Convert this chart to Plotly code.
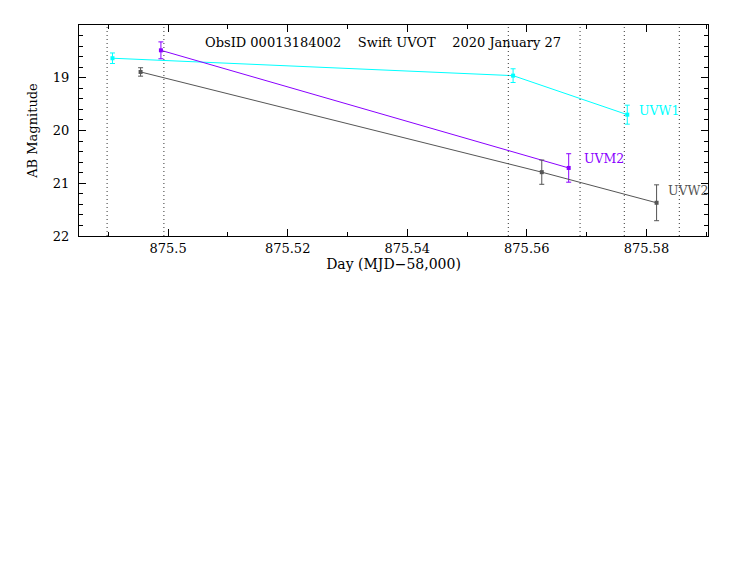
import plotly.graph_objects as go

# UVOT photometry, ObsID 00013184002
uvw1_day = [875.4907, 875.5577, 875.5768]
uvw1_mag = [18.63, 18.96, 19.70]
uvw1_err = [0.10, 0.13, 0.18]

uvm2_day = [875.4988, 875.5670]
uvm2_mag = [18.48, 20.71]
uvm2_err = [0.16, 0.27]

uvw2_day = [875.4954, 875.5625, 875.5817]
uvw2_mag = [18.89, 20.79, 21.37]
uvw2_err = [0.08, 0.23, 0.34]

# exposure boundaries (dotted lines)
bounds = [875.4898, 875.4993, 875.5569, 875.5689, 875.5763, 875.5855]

x_ticks = [875.50, 875.52, 875.54, 875.56, 875.58]
x_labels = ["875.5", "875.52", "875.54", "875.56", "875.58"]
y_ticks = [19, 20, 21, 22]

FONT = "DejaVu Serif"
series = [
    ("UVW1", uvw1_day, uvw1_mag, uvw1_err, "#00FFFF", (875.5785, 19.63)),
    ("UVM2", uvm2_day, uvm2_mag, uvm2_err, "#8A00FF", (875.5692, 20.53)),
    ("UVW2", uvw2_day, uvw2_mag, uvw2_err, "#555555", (875.5832, 21.14)),
]

fig = go.Figure()

for x in bounds:
    fig.add_shape(type="line", x0=x, x1=x, y0=0, y1=1, xref="x", yref="paper",
                  line=dict(color="#333333", width=1, dash="1px,3px"))

for name, xs, ys, es, col, (lx, ly) in series:
    fig.add_trace(go.Scatter(
        x=xs, y=ys, mode="lines+markers", name=name,
        line=dict(color=col, width=1),
        marker=dict(color=col, size=4, symbol="square"),
        error_y=dict(type="data", array=es, color=col, thickness=1, width=2.5),
    ))
    fig.add_annotation(x=lx, y=ly, text=name, showarrow=False, xanchor="left",
                       font=dict(family=FONT, size=12.5, color=col))

fig.add_annotation(
    x=0.483, y=0.915, xref="paper", yref="paper", showarrow=False, yanchor="middle",
    text="ObsID 00013184002\u00a0\u00a0\u00a0\u00a0Swift UVOT\u00a0\u00a0\u00a0\u00a02020 January 27",
    font=dict(family=FONT, size=13, color="black"),
)

axis_common = dict(
    showline=True, linecolor="black", linewidth=1, mirror="allticks",
    ticks="inside", ticklen=7, tickcolor="black", showgrid=False, zeroline=False,
    tickfont=dict(family=FONT, size=13, color="black"),
)

fig.update_xaxes(
    range=[875.4851, 875.5903], tickvals=x_ticks, ticktext=x_labels,
    minor=dict(dtick=0.01, tick0=875.5, ticks="inside", ticklen=4, tickcolor="black"),
    title=dict(text="Day (MJD\u221258,000)", font=dict(family=FONT, size=14, color="black"), standoff=3),
    **axis_common,
)
fig.update_yaxes(
    range=[22, 18.0], tickvals=y_ticks, ticklabelstandoff=6,
    minor=dict(dtick=0.2, tick0=18, ticks="inside", ticklen=4, tickcolor="black"),
    title=dict(text="AB Magnitude", font=dict(family=FONT, size=13, color="black"), standoff=12),
    **axis_common,
)

fig.update_layout(
    width=732, height=566,
    margin=dict(l=71, r=32, t=17, b=338),
    plot_bgcolor="white", paper_bgcolor="white",
    showlegend=False,
)

fig.write_html("out.html")
